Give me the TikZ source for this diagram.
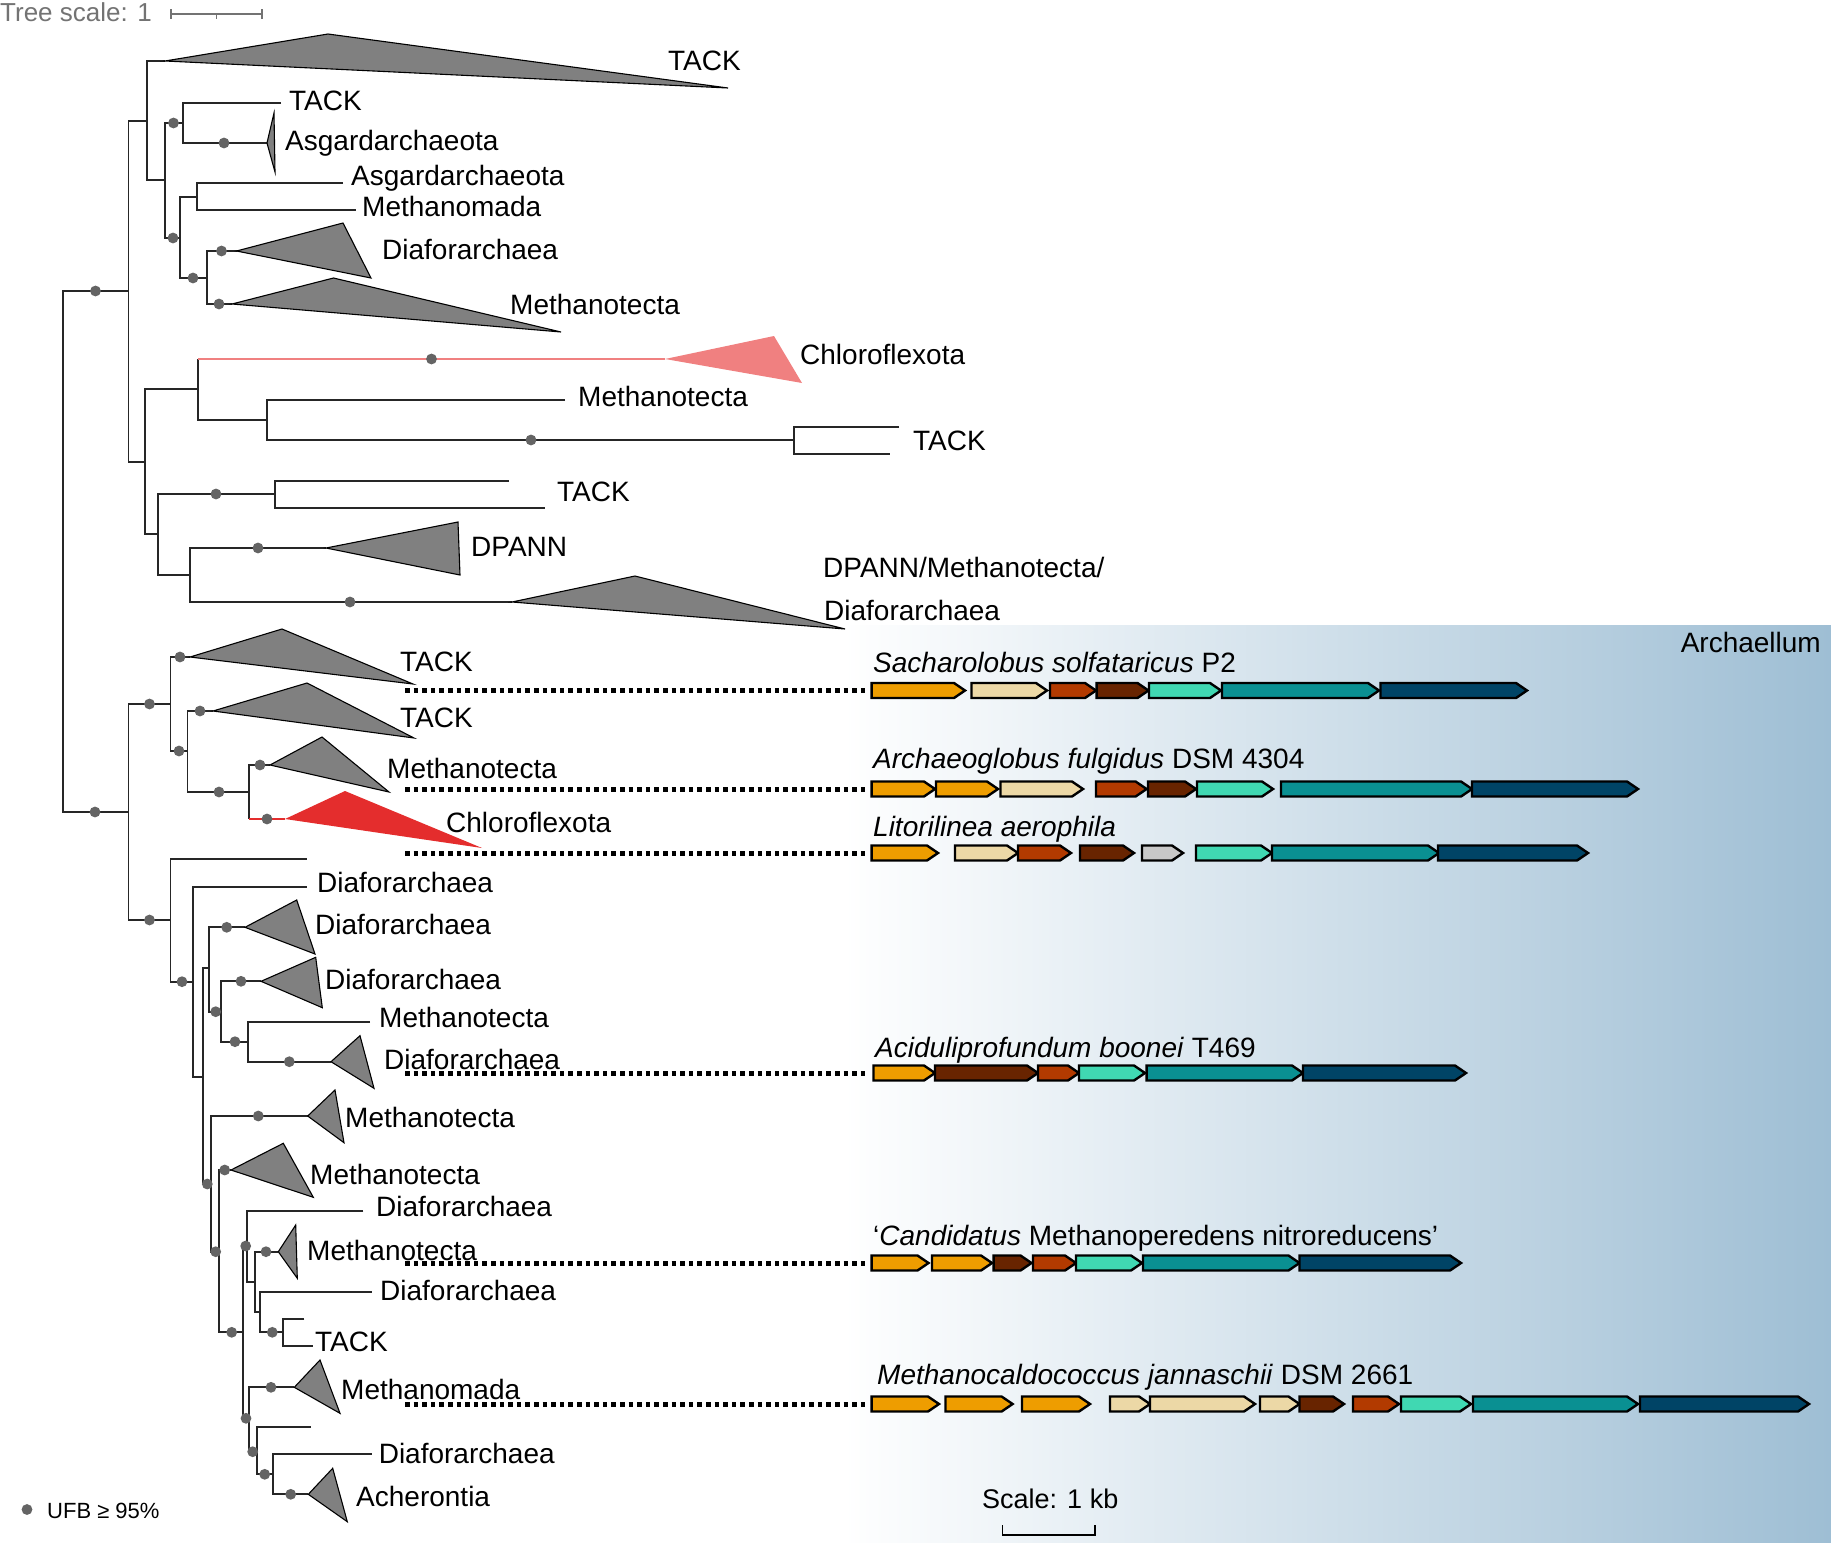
\documentclass[tikz,border=0pt]{standalone}
\usepackage{fontspec}
\setmainfont{Liberation Sans}
\definecolor{bgblue}{RGB}{158,190,212}
\definecolor{cOrg}{RGB}{238,157,0}
\definecolor{cBei}{RGB}{236,216,166}
\definecolor{cRus}{RGB}{178,58,0}
\definecolor{cDbr}{RGB}{104,36,0}
\definecolor{cMnt}{RGB}{64,216,178}
\definecolor{cTel}{RGB}{10,144,146}
\definecolor{cNav}{RGB}{0,68,102}
\definecolor{cGry}{RGB}{200,200,200}
\definecolor{lred}{RGB}{240,128,128}
\definecolor{dred}{RGB}{228,45,45}
\definecolor{trigray}{RGB}{128,128,128}
\definecolor{dotgray}{RGB}{100,100,100}
\newcommand\cld[5]{\draw[br] (#3,#2) -- (#1,#2) -- (#1,#4) -- (#5,#4);}
\newcommand\ufb[2]{\fill[dotgray] (#1,#2) circle (5.4pt);}
\newcommand\tri[6]{\filldraw[trist] (#1,#2) -- (#3,#4) -- (#5,#6) -- cycle;}
\newcommand\genearrow[4]{\draw[genest,fill=#4] (#1,#3-7.5) -- (#2-11,#3-7.5) -- (#2,#3) -- (#2-11,#3+7.5) -- (#1,#3+7.5) -- cycle;}
\begin{document}
\begin{tikzpicture}[x=1pt,y=-1pt,
  br/.style={line width=1.7pt,draw=black!85},
  trist/.style={fill=trigray,draw=black,line width=1.1pt,line join=miter},
  genest/.style={draw=black,line width=2.4pt,line join=miter},
  lab/.style={anchor=base west,inner sep=0pt,font=\fontsize{28}{34}\selectfont},
  glab/.style={anchor=base west,inner sep=0pt,font=\fontsize{28}{34}\selectfont},
  dotconn/.style={line width=5pt,draw=black,dash pattern=on 4.6pt off 4pt}]
\useasboundingbox (0,0) rectangle (1831,1542);
% background gradient
\shade[left color=white,right color=bgblue] (843,625) rectangle (1831,1542);

% tree scale
\node[anchor=base west,inner sep=0pt,text=black!55,font=\fontsize{26}{30}\selectfont] (tscale) at (0,21.7) {Tree scale: 1};
\draw[line width=1.7pt,black!55] (171,9) -- (171,19) (171,14) -- (262,14) (262,9) -- (262,19) (216.5,14) -- (216.5,18.5);

% ---------- upper tree ----------
\draw[br] (128.5,291) -- (63,291) -- (63,812) -- (128.6,812);
\cld{128.5}{121}{147}{462}{145}
\cld{147}{61}{165}{180}{165}
\cld{165}{123}{183}{238}{180}
\cld{183}{103}{281}{143}{267}
\cld{180}{197}{197}{278}{207}
\cld{197}{183}{343}{210}{356}
\cld{207}{251}{236.5}{304}{232}
\cld{145}{389}{198}{534}{158}
\draw[br] (198,359) -- (198,420) -- (267,420);
\draw[line width=2.2pt,lred] (198,359) -- (665,359);
\cld{267}{400}{565}{440}{794}
\cld{794}{427}{899}{454}{890}
\cld{158}{494}{275}{575}{190}
\cld{275}{481}{509}{508}{545}
\cld{190}{548}{326}{602}{512}

% ---------- lower tree ----------
\cld{128.6}{704}{170.5}{920}{170.5}
\cld{170.5}{657}{190}{751}{187.5}
\cld{187.5}{711}{213}{792}{249}
\draw[br] (270,765) -- (249,765) -- (249,819);
\draw[line width=2.2pt,dred] (249,819) -- (285,819);
\cld{170.5}{859}{306.7}{981.7}{193.3}
\cld{193.3}{886.7}{306.7}{1076.7}{203.3}
\cld{203.3}{968.3}{209.3}{1184}{211}
\cld{209.3}{927.3}{245}{1011.7}{221}
\cld{221}{981.3}{261}{1041.7}{247.7}
\cld{247.7}{1021.7}{370}{1061.7}{331}
\cld{211}{1116}{307.7}{1251.7}{219.3}
\cld{219.3}{1170}{231}{1332.3}{243.3}
\cld{243.3}{1246}{246.7}{1418.3}{249}
\cld{246.7}{1210.7}{363.3}{1281.7}{255}
\cld{255}{1251.7}{278.3}{1311.7}{260}
\cld{260}{1291.7}{371.7}{1332.3}{283.3}
\cld{283.3}{1319}{304.3}{1345.7}{313.3}
\cld{249}{1387.3}{294.3}{1451.7}{256.7}
\cld{256.7}{1427.3}{310.7}{1474.3}{272.7}
\cld{272.7}{1454.3}{371.7}{1494.3}{308.3}

% ---------- collapsed clades ----------
\tri{165}{61}{328}{34}{728}{88}
\tri{267}{143}{274}{113}{275}{172}
\tri{236.5}{251}{343}{223}{371}{278}
\tri{232}{304}{333.5}{278}{561}{332}
\fill[lred] (665,359) -- (774,336) -- (802,383) -- cycle;
\tri{326}{548}{458}{522}{460}{575}
\tri{512}{602}{635}{576}{845}{629}
\tri{190}{657}{282}{629}{413}{684}
\tri{213}{711}{307}{683}{414}{738}
\tri{270}{765}{322}{737}{389}{792}
\fill[dred] (285,819) -- (345,791) -- (482,848) -- cycle;
\tri{245}{927.3}{296.7}{900}{315}{954}
\tri{261}{981.3}{315.7}{957.3}{322.3}{1007.7}
\tri{331}{1061.7}{360}{1035.7}{374}{1088.3}
\tri{307.7}{1116}{335}{1090}{344}{1142.7}
\tri{231}{1170}{283.3}{1143.3}{313.3}{1197.3}
\tri{278.3}{1251.7}{295.7}{1225}{297.3}{1278.3}
\tri{294.3}{1387.3}{320}{1360}{340}{1413.3}
\tri{308.3}{1494.3}{332.7}{1468.3}{347.3}{1521.7}

% ---------- support dots ----------
\ufb{95.5}{291}\ufb{173.5}{123}\ufb{224}{143}\ufb{173}{238}\ufb{193}{278}
\ufb{221.5}{251}\ufb{219}{304}\ufb{431.5}{359}\ufb{531}{440}\ufb{216}{494}
\ufb{258}{548}\ufb{350}{602}
\ufb{95}{812}\ufb{149.5}{704}\ufb{180}{657}\ufb{179}{751}\ufb{200}{711}
\ufb{219}{792}\ufb{260}{765}\ufb{267}{819}\ufb{149.5}{920}\ufb{182}{981.7}
\ufb{226.7}{927.3}\ufb{215.7}{1011.7}\ufb{241}{981.3}\ufb{235}{1041.7}
\ufb{289.3}{1061.7}\ufb{207.3}{1184}\ufb{258.3}{1116}\ufb{215.7}{1251.7}
\ufb{224.7}{1170}\ufb{231.7}{1332.3}\ufb{245.7}{1246}\ufb{266}{1251.7}
\ufb{272.3}{1332.3}\ufb{246}{1418.3}\ufb{271}{1387.3}\ufb{252.7}{1451.7}
\ufb{264.7}{1474.3}\ufb{290.7}{1494.3}

% ---------- tree labels ----------
\node[lab] (l1) at (668,70) {TACK};
\node[lab] (l2) at (289,110) {TACK};
\node[lab] (l3) at (285,150.7) {Asgardarchaeota};
\node[lab] (l4) at (351,185) {Asgardarchaeota};
\node[lab] (l5) at (362,216.7) {Methanomada};
\node[lab] (l6) at (382,259) {Diaforarchaea};
\node[lab] (l7) at (510,314) {Methanotecta};
\node[lab] (l8) at (800,364) {Chloroflexota};
\node[lab] (l9) at (578,406.7) {Methanotecta};
\node[lab] (l10) at (913,450.7) {TACK};
\node[lab] (l11) at (557,501.7) {TACK};
\node[lab] (l12) at (471,556.7) {DPANN};
\node[lab] (l13) at (823,577.3) {DPANN/Methanotecta/};
\node[lab] (l14) at (824,620) {Diaforarchaea};
\node[lab] (l15) at (400,671.7) {TACK};
\node[lab] (l16) at (400,727.7) {TACK};
\node[lab] (l17) at (387,778.3) {Methanotecta};
\node[lab] (l18) at (446,832.3) {Chloroflexota};
\node[lab] (l19) at (317,892.7) {Diaforarchaea};
\node[lab] (l20) at (315,934) {Diaforarchaea};
\node[lab] (l21) at (325,989.3) {Diaforarchaea};
\node[lab] (l22) at (379,1027.7) {Methanotecta};
\node[lab] (l23) at (384,1069.3) {Diaforarchaea};
\node[lab] (l24) at (345,1127.7) {Methanotecta};
\node[lab] (l25) at (310,1184) {Methanotecta};
\node[lab] (l26) at (376,1216.5) {Diaforarchaea};
\node[lab] (l27) at (307,1260) {Methanotecta};
\node[lab] (l28) at (380,1300.7) {Diaforarchaea};
\node[lab] (l29) at (315,1351) {TACK};
\node[lab] (l30) at (341,1399) {Methanomada};
\node[lab] (l31) at (378.6,1463.3) {Diaforarchaea};
\node[lab] (l32) at (356,1506.7) {Acherontia};

% legend
\ufb{27}{1509.5}
\node[anchor=base west,inner sep=0pt,font=\fontsize{22}{26}\selectfont] (legend) at (47,1518.3) {UFB ≥ 95\%};

% ---------- dotted connectors ----------
\coordinate (s1) at (405,690.5); \coordinate (e1) at (867,690.5);
\coordinate (s2) at (405,789);   \coordinate (e2) at (867,789);
\coordinate (s3) at (405,853);   \coordinate (e3) at (867,853);
\coordinate (s4) at (405,1073);  \coordinate (e4) at (867,1073);
\coordinate (s5) at (405,1263);  \coordinate (e5) at (867,1263);
\coordinate (s6) at (405,1404);  \coordinate (e6) at (867,1404);
\foreach \i in {1,...,6} {\draw[dotconn] (s\i) -- (e\i);}

% ---------- gene labels ----------
\node[glab] (g1) at (873,672.7) {\textit{Sacharolobus solfataricus} P2};
\node[glab] (g2) at (873,768.3) {\textit{Archaeoglobus fulgidus} DSM 4304};
\node[glab] (g3) at (873,836.7) {\textit{Litorilinea aerophila}};
\node[glab] (g4) at (875,1057.3) {\textit{Aciduliprofundum boonei} T469};
\node[glab] (g5) at (873,1245) {‘\textit{Candidatus} Methanoperedens nitroreducens’};
\node[glab] (g6) at (877,1384) {\textit{Methanocaldococcus jannaschii} DSM 2661};
\node[anchor=base east,inner sep=0pt,font=\fontsize{28}{34}\selectfont] (arch) at (1821,652.7) {Archaellum};

% ---------- genes ----------
\genearrow{871.6}{965}{690.5}{cOrg}
\genearrow{971.5}{1047}{690.5}{cBei}
\genearrow{1050}{1096}{690.5}{cRus}
\genearrow{1096.6}{1148.5}{690.5}{cDbr}
\genearrow{1149}{1221}{690.5}{cMnt}
\genearrow{1222}{1379}{690.5}{cTel}
\genearrow{1380.5}{1527}{690.5}{cNav}

\genearrow{871.6}{935}{789}{cOrg}
\genearrow{936}{998}{789}{cOrg}
\genearrow{1000.5}{1083}{789}{cBei}
\genearrow{1096}{1146.6}{789}{cRus}
\genearrow{1148}{1196}{789}{cDbr}
\genearrow{1197}{1273}{789}{cMnt}
\genearrow{1281}{1472}{789}{cTel}
\genearrow{1472}{1638}{789}{cNav}

\genearrow{871.6}{938}{853}{cOrg}
\genearrow{955}{1018}{853}{cBei}
\genearrow{1018}{1071}{853}{cRus}
\genearrow{1080}{1134}{853}{cDbr}
\genearrow{1142}{1183}{853}{cGry}
\genearrow{1196}{1272}{853}{cMnt}
\genearrow{1272}{1439}{853}{cTel}
\genearrow{1438}{1588}{853}{cNav}

\genearrow{873.5}{935}{1073}{cOrg}
\genearrow{935}{1038}{1073}{cDbr}
\genearrow{1038}{1079}{1073}{cRus}
\genearrow{1079}{1145}{1073}{cMnt}
\genearrow{1146.6}{1303}{1073}{cTel}
\genearrow{1303}{1466}{1073}{cNav}

\genearrow{871.6}{928.5}{1263}{cOrg}
\genearrow{932}{992}{1263}{cOrg}
\genearrow{993.6}{1031.5}{1263}{cDbr}
\genearrow{1033}{1076}{1263}{cRus}
\genearrow{1076}{1142}{1263}{cMnt}
\genearrow{1143}{1299.5}{1263}{cTel}
\genearrow{1299.5}{1461}{1263}{cNav}

\genearrow{871.6}{939}{1404}{cOrg}
\genearrow{945.5}{1012.6}{1404}{cOrg}
\genearrow{1022}{1090}{1404}{cOrg}
\genearrow{1110}{1150}{1404}{cBei}
\genearrow{1150}{1255}{1404}{cBei}
\genearrow{1260}{1299.5}{1404}{cBei}
\genearrow{1299.5}{1344}{1404}{cDbr}
\genearrow{1353}{1399}{1404}{cRus}
\genearrow{1401}{1471}{1404}{cMnt}
\genearrow{1473}{1638}{1404}{cTel}
\genearrow{1640}{1809}{1404}{cNav}

% ---------- gene scale ----------
\node[anchor=base west,inner sep=0pt,font=\fontsize{27}{32}\selectfont] (kb) at (982,1508.3) {Scale: 1 kb};
\draw[line width=1.8pt] (1002.5,1525) -- (1002.5,1535) -- (1095,1535) -- (1095,1525);
\end{tikzpicture}
\end{document}
